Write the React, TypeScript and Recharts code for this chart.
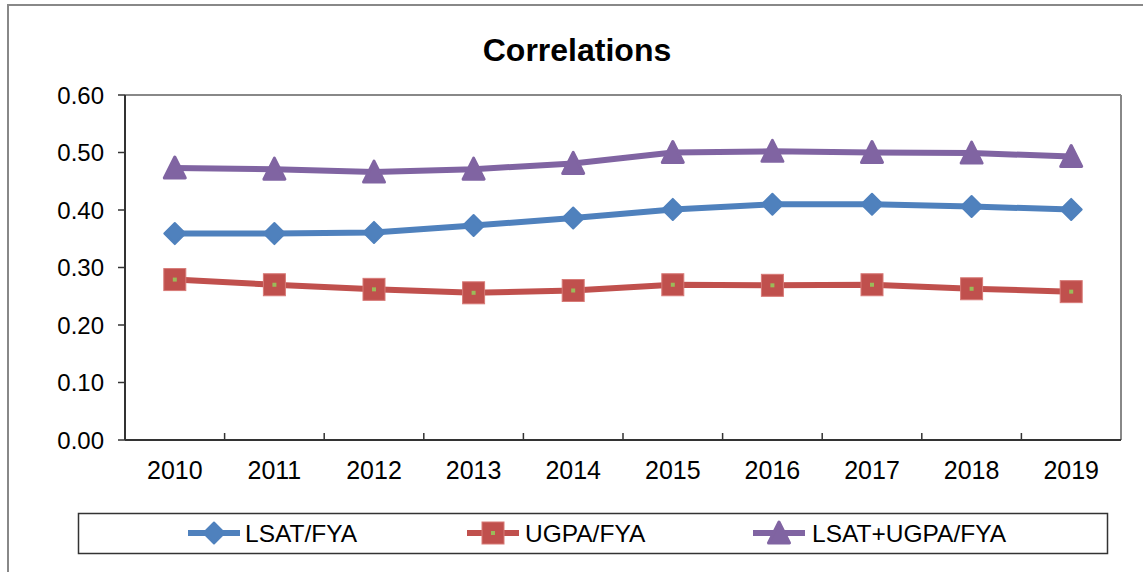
import React from 'react'
import { LineChart, Line, XAxis, YAxis, ReferenceLine } from 'recharts'

const years = ['2010', '2011', '2012', '2013', '2014', '2015', '2016', '2017', '2018', '2019']
const lsatFya = [0.359, 0.359, 0.361, 0.373, 0.386, 0.401, 0.410, 0.410, 0.406, 0.401]
const ugpaFya = [0.279, 0.270, 0.262, 0.256, 0.260, 0.270, 0.269, 0.270, 0.263, 0.258]
const lsatUgpaFya = [0.473, 0.471, 0.466, 0.471, 0.481, 0.500, 0.502, 0.500, 0.499, 0.493]
const yTicks = [0, 0.1, 0.2, 0.3, 0.4, 0.5, 0.6]
// labels at category centres, tick marks at the boundaries between them
const xTicks = [0, 0.5, 1, 1.5, 2, 2.5, 3, 3.5, 4, 4.5, 5, 5.5, 6, 6.5, 7, 7.5, 8, 8.5, 9]

const BLUE = '#4F81BD'
const RED = '#C0504D'
const PURPLE = '#8064A2'
const GREEN = '#9BBB59'
const FONT = '"Liberation Sans", Arial, sans-serif'

const data = years.map((year, i) => ({
  i,
  year,
  lsat: lsatFya[i],
  ugpa: ugpaFya[i],
  both: lsatUgpaFya[i],
}))

const Diamond = ({ cx, cy }: any) => (
  <path
    d={`M${cx},${cy - 10.5} L${cx + 10.5},${cy} L${cx},${cy + 10.5} L${cx - 10.5},${cy} Z`}
    fill={BLUE}
    stroke={BLUE}
    strokeWidth={2}
    strokeLinejoin="round"
  />
)

const Square = ({ cx, cy }: any) => (
  <g>
    <rect x={cx - 11} y={cy - 11} width={22} height={22} fill={RED} stroke="#d77a77" strokeWidth={1} />
    <rect x={cx - 2} y={cy - 2} width={4} height={4} fill={GREEN} />
  </g>
)

const Triangle = ({ cx, cy }: any) => (
  <path
    d={`M${cx},${cy - 11} L${cx + 10.5},${cy + 10} L${cx - 10.5},${cy + 10} Z`}
    fill={PURPLE}
    stroke={PURPLE}
    strokeWidth={3}
    strokeLinejoin="round"
  />
)

const XTick = ({ x, y, payload }: any) => {
  const v = payload.value
  if (Number.isInteger(v)) {
    return (
      <text x={x} y={y + 39} textAnchor="middle" fontSize={25} fontFamily={FONT} fill="#000">
        {years[v]}
      </text>
    )
  }
  return <line x1={x} x2={x} y1={y} y2={y - 7} stroke="#333" strokeWidth={1.5} />
}

const legendItems = [
  { name: 'LSAT/FYA', color: BLUE, Marker: Diamond, icon: 188, text: 245 },
  { name: 'UGPA/FYA', color: RED, Marker: Square, icon: 467, text: 525 },
  { name: 'LSAT+UGPA/FYA', color: PURPLE, Marker: Triangle, icon: 753, text: 812 },
]

export default function App() {
  return (
    <div style={{ position: 'fixed', left: 0, top: 0, width: 1143, height: 572, background: '#fff', overflow: 'hidden' }}>
      {/* outer chart-area frame, only left and top edges are in view */}
      <div
        style={{
          position: 'absolute',
          left: 7,
          top: 4,
          width: 1300,
          height: 700,
          borderLeft: '2px solid #888',
          borderTop: '2px solid #888',
        }}
      />
      <LineChart
        width={1143}
        height={572}
        data={data}
        margin={{ top: 95, right: 22, bottom: 92, left: 0 }}
        style={{ position: 'absolute', left: 0, top: 0 }}
      >
        <XAxis
          dataKey="i"
          type="number"
          domain={[-0.5, 9.5]}
          ticks={xTicks}
          interval={0}
          tick={<XTick />}
          tickLine={false}
          tickSize={0}
          tickMargin={0}
          height={40}
          axisLine={{ stroke: '#333', strokeWidth: 2 }}
        />
        <YAxis
          type="number"
          domain={[0, 0.6]}
          ticks={yTicks}
          interval={0}
          width={125}
          tickFormatter={(v: number) => v.toFixed(2)}
          tickSize={7}
          tickMargin={14}
          tick={{ fill: '#000', fontSize: 24, fontFamily: FONT }}
          tickLine={{ stroke: '#333', strokeWidth: 1.5 }}
          axisLine={{ stroke: '#333', strokeWidth: 2 }}
        />
        <ReferenceLine y={0.6} stroke="#888" strokeWidth={2} />
        <ReferenceLine x={9.5} stroke="#888" strokeWidth={2} />
        <Line dataKey="lsat" stroke={BLUE} strokeWidth={6} dot={<Diamond />} activeDot={false} isAnimationActive={false} />
        <Line dataKey="ugpa" stroke={RED} strokeWidth={6} dot={<Square />} activeDot={false} isAnimationActive={false} />
        <Line dataKey="both" stroke={PURPLE} strokeWidth={6} dot={<Triangle />} activeDot={false} isAnimationActive={false} />
      </LineChart>

      <svg width={1143} height={572} style={{ position: 'absolute', left: 0, top: 0, pointerEvents: 'none' }}>
        <text x={577} y={61} textAnchor="middle" fontSize={32} fontWeight="bold" fontFamily={FONT} fill="#000">
          Correlations
        </text>
        <rect x={78.5} y={513.5} width={1029} height={40} fill="none" stroke="#333" strokeWidth={1.5} />
        {legendItems.map(({ name, color, Marker, icon, text }) => (
          <g key={name}>
            <line x1={icon} x2={icon + 52} y1={533} y2={533} stroke={color} strokeWidth={6} />
            <Marker cx={icon + 26} cy={533} />
            <text x={text} y={542} fontSize={24.5} fontFamily={FONT} fill="#000">
              {name}
            </text>
          </g>
        ))}
      </svg>
    </div>
  )
}
